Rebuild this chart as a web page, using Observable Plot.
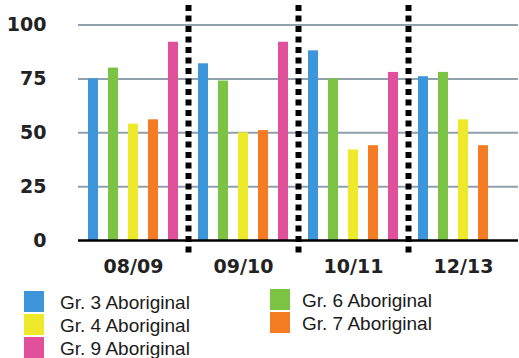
<!DOCTYPE html>
<html>
<head>
<meta charset="utf-8">
<script src="https://cdn.jsdelivr.net/npm/d3@7"></script>
<script src="https://cdn.jsdelivr.net/npm/@observablehq/plot@0.6"></script>
<style>
  body { margin: 0; background: #fff; }
  #wrap { position: relative; width: 519px; height: 358px; overflow: hidden; background: #fff; }
  #chart svg { display: block; }
  .legend {
    position: absolute; left: 24px; top: 291px;
    display: grid; grid-template-columns: 246px auto; grid-auto-rows: 23px;
    font-family: "Liberation Sans", Arial, sans-serif; font-size: 19px; color: #1a1a1a;
  }
  .item { display: flex; align-items: flex-start; white-space: nowrap; line-height: 19px; }
  .sw { width: 20px; height: 21px; margin-right: 16px; flex: none; }
  .item span { padding-top: 2px; }
  .item:nth-child(even) { margin-top: -2px; }
  .item:nth-child(even) .sw { margin-right: 12px; }
</style>
</head>
<body>
<div id="wrap">
  <div id="chart"></div>
  <div class="legend" id="legend"></div>
</div>
<script>
// School years along the x axis
const periods = ["08/09", "09/10", "10/11", "12/13"];
// Grade series, in bar order within each year
const series = ["Gr. 3 Aboriginal", "Gr. 6 Aboriginal", "Gr. 4 Aboriginal", "Gr. 7 Aboriginal", "Gr. 9 Aboriginal"];
const colors = ["#3d96d9", "#7cc243", "#efe92c", "#f57c22", "#e0509b"];
// Percentages per year (null = not reported)
const gr3 = [75, 82, 88, 76];
const gr6 = [80, 74, 75, 78];
const gr4 = [54, 50, 42, 56];
const gr7 = [56, 51, 44, 44];
const gr9 = [92, 92, 78, null];
const yTicks = [0, 25, 50, 75, 100];

const values = [gr3, gr6, gr4, gr7, gr9];
const rows = [];
series.forEach((s, si) => {
  periods.forEach((p, pi) => {
    const v = values[si][pi];
    if (v != null) rows.push({period: p, series: s, value: v});
  });
});

// dotted dividers at the left edge of every year after the first
const dividers = periods.slice(1).map(p => Plot.frame({
  anchor: "left",
  fx: [p],
  stroke: "#000",
  strokeWidth: 6,
  strokeLinecap: "butt",
  strokeDasharray: "6,4.5",
  insetTop: -20,
  insetBottom: -12
}));

const chart = Plot.plot({
  width: 519,
  height: 285,
  marginLeft: 76,
  marginRight: 0,
  marginTop: 24.5,
  marginBottom: 45,
  style: {fontFamily: "'DejaVu Sans', sans-serif", fontWeight: "bold", fontSize: "19px", color: "#222", background: "transparent"},
  fx: {domain: periods, padding: 0, label: null, tickSize: 0, tickPadding: 19},
  x: {domain: series, padding: 0.5, axis: null},
  y: {domain: [0, 100], ticks: yTicks, tickSize: 0, tickPadding: 32, label: null},
  color: {domain: series, range: colors},
  marks: [
    Plot.ruleY(yTicks.slice(1), {stroke: "#8fa1ac", strokeWidth: 2}),
    Plot.barY(rows, {fx: "period", x: "series", y: "value", fill: "series"}),
    ...dividers,
    Plot.ruleY([0], {stroke: "#000", strokeWidth: 2.5})
  ]
});
document.getElementById("chart").appendChild(chart);

// legend laid out in two columns, row by row in series order
const legend = document.getElementById("legend");
series.forEach((s, i) => {
  const item = document.createElement("div");
  item.className = "item";
  const sw = document.createElement("div");
  sw.className = "sw";
  sw.style.background = colors[i];
  const label = document.createElement("span");
  label.textContent = s;
  item.appendChild(sw);
  item.appendChild(label);
  legend.appendChild(item);
});
</script>
</body>
</html>
